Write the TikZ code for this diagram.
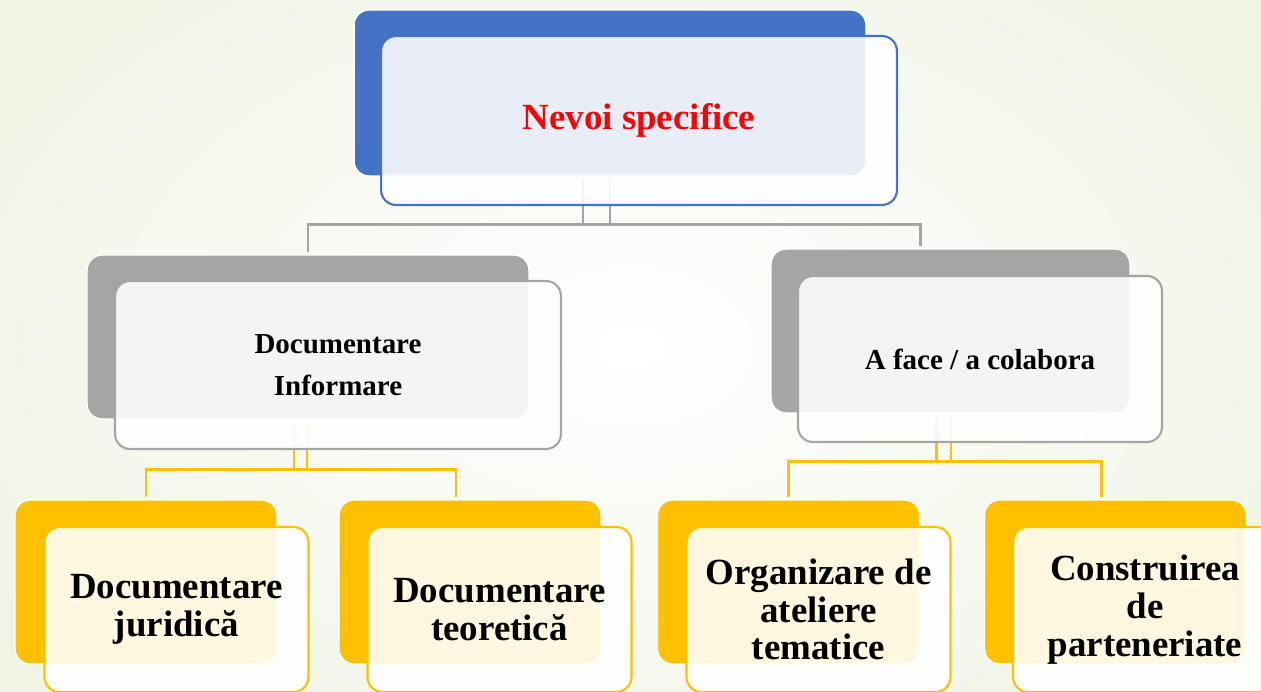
\documentclass[tikz,border=0pt]{standalone}
\usepackage{fontspec}
\setmainfont{Liberation Serif}
\usetikzlibrary{positioning,calc}
\definecolor{boxblue}{RGB}{68,114,196}
\definecolor{boxgray}{RGB}{165,165,165}
\definecolor{boxgold}{RGB}{255,192,0}
\definecolor{bgedge}{RGB}{238,243,226}
\tikzset{
	back/.style={rectangle,rounded corners=0.3cm,draw=white,line width=0.8pt,fill=#1,inner sep=0pt},
	front/.style={rectangle,rounded corners=0.3cm,draw=#1,line width=1.2pt,fill=white,fill opacity=0.88,text opacity=1,inner sep=0pt,align=center,font=\bfseries},
	conn/.style={draw=#1,line width=1.6pt},
	lowback/.style={back=boxgold,minimum width=5.24cm,minimum height=3.28cm},
	lowfront/.style={front=boxgold,minimum width=5.28cm,minimum height=3.3cm,font=\bfseries\fontsize{21}{21.5}\selectfont}
}
\begin{document}
\begin{tikzpicture}[x=0.02cm,y=-0.02cm]
		\useasboundingbox (0,0) rectangle (1261,692);
		\clip (0,0) rectangle (1261,692);
		\shade[inner color=white,outer color=bgedge] (-200,-200) rectangle (1461,892);
		% back boxes
		\node[back=boxblue,minimum width=10.24cm,minimum height=3.32cm] (topb) at (610,93) {};
		\node[back=boxgray,minimum width=8.84cm,minimum height=3.28cm] (infb) at (308,337) {};
		\node[back=boxgray,minimum width=7.18cm,minimum height=3.28cm] (colb) at (950.5,331) {};
		\node[lowback] (jurb) at (146,582) {};
		\node[lowback] (teob) at (470,582) {};
		\node[lowback] (ateb) at (788.5,582) {};
		\node[lowback] (parb) at (1115.5,582) {};
		% connectors
		\draw[conn=boxgray] ($(topb.south)+(-27,2)$) |- ($(topb.south)+(0,48)$) -| ($(infb.north)+(0,-2)$);
		\draw[conn=boxgray] ($(topb.south)+(0,2)$) |- ($(topb.south)+(0,48)$) -| ($(colb.north)+(-30,-2)$);
		\draw[conn=boxgold] ($(infb.south)+(-14,4)$) |- ($(infb.south)+(0,50)$) -| ($(jurb.north)+(0,-2)$);
		\draw[conn=boxgold] ($(infb.south)+(-1,4)$) |- ($(infb.south)+(0,50)$) -| ($(teob.north)+(-14,-2)$);
		\draw[conn=boxgold] ($(colb.south)+(-14,4)$) |- ($(colb.south)+(0,48)$) -| ($(ateb.north)+(0,-2)$);
		\draw[conn=boxgold] ($(colb.south)+(0.5,4)$) |- ($(colb.south)+(0,48)$) -| ($(parb.north)+(-14,-2)$);
		% front boxes
		\node[front=boxblue,minimum width=10.32cm,minimum height=3.38cm,text=red,font=\bfseries\fontsize{21}{25}\selectfont] (topf) at ($(topb)+(29,27.5)$) {Nevoi specifice};
		\node[front=boxgray,minimum width=8.92cm,minimum height=3.36cm,font=\bfseries\fontsize{16.5}{24}\selectfont] (inff) at ($(infb)+(30,28)$) {Documentare\\Informare};
		\node[front=boxgray,minimum width=7.28cm,minimum height=3.32cm,font=\bfseries\fontsize{16.5}{24}\selectfont] (colf) at ($(colb)+(29.5,28)$) {A face / a colabora};
		\node[lowfront] (jurf) at ($(jurb)+(30.5,27.5)$) {Documentare\\juridică};
		\node[lowfront] (teof) at ($(teob)+(29.5,27.5)$) {Documentare\\teoretică};
		\node[lowfront] (atef) at ($(ateb)+(30,27.5)$) {Organizare de\\ateliere\\tematice};
		\node[lowfront] (parf) at ($(parb)+(29.5,27.5)$) {Construirea\\de\\parteneriate};
	\end{tikzpicture}
\end{document}
